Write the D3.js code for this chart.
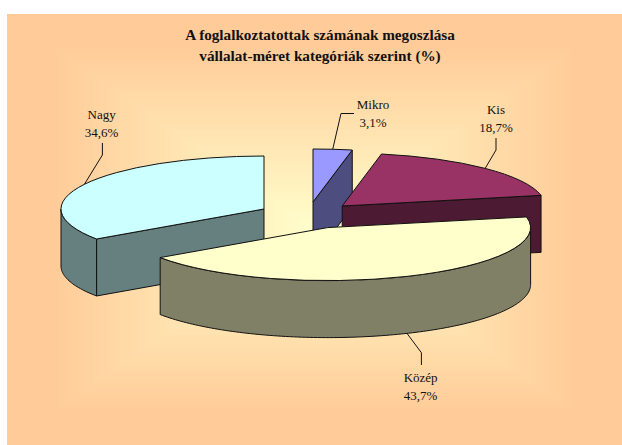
<!DOCTYPE html>
<html>
<head>
  <meta charset="UTF-8">
  <title>A foglalkoztatottak számának megoszlása</title>
  <script src="https://d3js.org/d3.v7.min.js"></script>
  <style>
    body { margin: 0; background: #fff; }
    svg { display: block; font-family: "Liberation Serif", serif; }
    .label { font-size: 13px; text-anchor: middle; fill: #111; }
    .title { font-size: 15.2px; font-weight: bold; text-anchor: middle; fill: #111; }
  </style>
</head>
<body>
  <svg></svg>
  <script>
    const categories = ['Mikro', 'Kis', 'Közép', 'Nagy'];
    const shares = [3.1, 18.7, 43.7, 34.6];
    const titleLines = ['A foglalkoztatottak számának megoszlása', 'vállalat-méret kategóriák szerint (%)'];

    const topColors = ['#9999ff', '#993366', '#ffffcc', '#ccffff'];
    const sideColors = ['#4d4d80', '#4d1a33', '#808066', '#668080'];

    // where each exploded slice sits, same order as categories
    const centers = [[313, 202], [342.2, 206], [327.6, 227.6], [264, 209]];
    // leader elbow + end, then label centre
    const leaders = [
      { elbow: [341, 113.5], end: [354, 113.5], text: [373, 109] },
      { elbow: [496, 150], end: [496, 138], text: [496, 114] },
      { elbow: [421.4, 352.7], end: [421.4, 365], text: [420.6, 382] },
      { elbow: [102.4, 155], end: [102.4, 143], text: [101.6, 119] }
    ];
    const drawOrder = [0, 3, 1, 2];

    const W = 622, H = 445;
    const rx = 203, ry = 53, depth = 57;

    const svg = d3.select('svg').attr('width', W).attr('height', H);

    // Excel style "from center" fill: nested rectangles, one per colour step
    const bgLeft = 7, bgTop = 14;
    const bgCx = (bgLeft + W) / 2, bgCy = (bgTop + H) / 2;
    const bgColor = d3.interpolateRgb('#ffcc99', '#ffffcc');
    const bgSteps = 51, bgReach = 0.85;
    svg.append('rect').attr('x', bgLeft).attr('y', bgTop).attr('width', W - bgLeft).attr('height', H - bgTop)
      .attr('fill', '#ffcc99');
    svg.selectAll('.band').data(d3.range(1, bgSteps + 1)).enter().append('rect')
      .attr('class', 'band')
      .attr('x', d => bgCx - (W - bgLeft) / 2 * bgReach * (1 - d / bgSteps))
      .attr('y', d => bgCy - (H - bgTop) / 2 * bgReach * (1 - d / bgSteps))
      .attr('width', d => (W - bgLeft) * bgReach * (1 - d / bgSteps))
      .attr('height', d => (H - bgTop) * bgReach * (1 - d / bgSteps))
      .attr('fill', d => bgColor(d / bgSteps));

    svg.selectAll('.title').data(titleLines).enter().append('text')
      .attr('class', 'title')
      .attr('x', 320)
      .attr('y', (d, i) => 40 + i * 21)
      .text(d => d);

    const pie = d3.pie().sort(null).value(d => d);
    const arcs = pie(shares);
    const arc = d3.arc().innerRadius(0).outerRadius(rx);
    const line = d3.line();

    const px = (i, a) => centers[i][0] + rx * Math.sin(a);
    const py = (i, a) => centers[i][1] - ry * Math.cos(a);

    function outerWall(i, a0, a1) {
      const from = Math.max(a0, Math.PI / 2), to = Math.min(a1, Math.PI * 1.5);
      if (to <= from) return null;
      const steps = d3.range(from, to, 0.02).concat([to]);
      const top = steps.map(a => [px(i, a), py(i, a)]);
      const bottom = steps.slice().reverse().map(a => [px(i, a), py(i, a) + depth]);
      return line(top.concat(bottom)) + 'Z';
    }

    function cutFace(i, a) {
      const [cx, cy] = centers[i];
      return line([[cx, cy], [px(i, a), py(i, a)], [px(i, a), py(i, a) + depth], [cx, cy + depth]]) + 'Z';
    }

    const slices = svg.selectAll('.slice').data(drawOrder).enter().append('g').attr('class', 'slice');

    slices.each(function(i) {
      const g = d3.select(this);
      const d = arcs[i];
      const faces = [];
      if (d.startAngle > Math.PI) faces.push(cutFace(i, d.startAngle));
      if (d.endAngle < Math.PI) faces.push(cutFace(i, d.endAngle));
      const wall = outerWall(i, d.startAngle, d.endAngle);
      if (wall) faces.push(wall);
      g.selectAll('path.side').data(faces).enter().append('path')
        .attr('class', 'side')
        .attr('d', p => p)
        .attr('fill', sideColors[i])
        .attr('stroke', '#111')
        .attr('stroke-linejoin', 'round');
      g.append('path')
        .attr('d', arc(d))
        .attr('transform', `translate(${centers[i][0]},${centers[i][1]}) scale(1,${ry / rx})`)
        .attr('vector-effect', 'non-scaling-stroke')
        .attr('fill', topColors[i])
        .attr('stroke', '#111');
    });

    // leaders start on the rim at the middle of the slice
    svg.selectAll('.leader').data(arcs).enter().append('path')
      .attr('class', 'leader')
      .attr('fill', 'none')
      .attr('stroke', '#111')
      .attr('d', (d, i) => {
        const mid = (d.startAngle + d.endAngle) / 2;
        const drop = Math.cos(mid) < 0 ? depth : 0;
        return line([[px(i, mid), py(i, mid) + drop], leaders[i].elbow, leaders[i].end]);
      });

    categories.forEach((c, i) => {
      const t = svg.append('text').attr('class', 'label')
        .attr('x', leaders[i].text[0]).attr('y', leaders[i].text[1]);
      t.append('tspan').attr('x', leaders[i].text[0]).text(c);
      t.append('tspan').attr('x', leaders[i].text[0]).attr('dy', 18)
        .text(String(shares[i]).replace('.', ',') + '%');
    });
  </script>
</body>
</html>
